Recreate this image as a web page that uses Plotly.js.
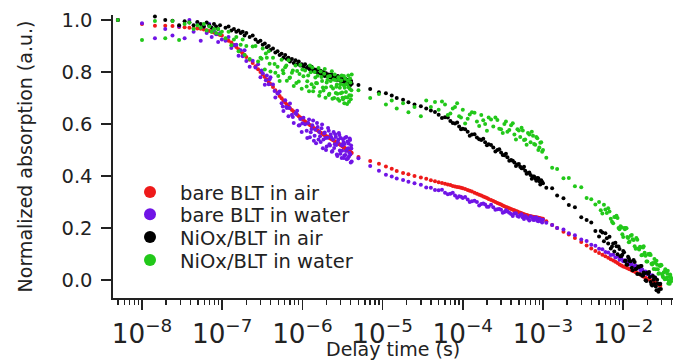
<!DOCTYPE html>
<html><head><meta charset="utf-8">
<script src="https://cdn.plot.ly/plotly-3.0.1.min.js"></script>
<style>html,body{margin:0;padding:0;background:#fff}#chart{width:673px;height:362px}</style>
</head><body><div id="chart"></div>
<script>
// Delay times (s)
const timeFast = [5e-9,1e-8,1.45e-8,1.95e-8,2.4e-8,2.9e-8,3.4e-8,3.9e-8,4.4e-8,4.9e-8,5.4e-8,5.9e-8,6.4e-8,6.9e-8,7.4e-8,7.9e-8,8.4e-8,8.9e-8,9.4e-8,9.9e-8,
1.1e-7,1.2e-7,1.3e-7,1.4e-7,1.5e-7,1.6e-7,1.7e-7,1.8e-7,1.9e-7,2e-7,
2.2e-7,2.4e-7,2.6e-7,2.8e-7,3e-7,3.2e-7,3.4e-7,3.6e-7,3.8e-7,4e-7,
4.3e-7,4.6e-7,4.9e-7,5.2e-7,5.5e-7,5.8e-7,6.1e-7,6.4e-7,6.7e-7,7e-7,
7.4e-7,7.8e-7,8.2e-7,8.6e-7,9e-7,9.4e-7,9.8e-7,1.03e-6,1.08e-6,1.13e-6,
1.18e-6,1.24e-6,1.3e-6,1.36e-6,1.42e-6,1.48e-6,1.55e-6,1.62e-6,1.69e-6,1.76e-6,
1.83e-6,1.9e-6,1.97e-6,2.05e-6,2.13e-6,2.21e-6,2.29e-6,2.37e-6,2.45e-6,2.53e-6,
2.61e-6,2.69e-6,2.77e-6,2.85e-6,2.93e-6,3.01e-6,3.09e-6,3.17e-6,3.25e-6,3.33e-6,
3.41e-6,3.49e-6,3.57e-6,3.65e-6,3.73e-6,3.81e-6,3.89e-6,3.97e-6,4.05e-6,4.12e-6];
const timeBand = [3.1e-7,3.5e-7,3.9e-7,4.5e-7,5e-7,5.7e-7,6.3e-7,6.9e-7,7.6e-7,8.4e-7,9.2e-7,1e-6,
1.15e-6,1.21e-6,1.27e-6,1.33e-6,1.39e-6,1.45e-6,1.52e-6,1.59e-6,1.66e-6,1.73e-6,1.8e-6,1.87e-6,1.94e-6,2.01e-6,
2.09e-6,2.17e-6,2.25e-6,2.33e-6,2.41e-6,2.49e-6,2.57e-6,2.65e-6,2.73e-6,2.81e-6,2.89e-6,2.97e-6,3.05e-6,3.13e-6,
3.21e-6,3.29e-6,3.37e-6,3.45e-6,3.53e-6,3.61e-6,3.69e-6,3.77e-6,3.85e-6,3.93e-6,4.01e-6,4.08e-6];
const timeMid = [5e-6,7e-6,9e-6,1.1e-5,1.3e-5,1.5e-5,1.8e-5,2.1e-5,2.5e-5,3e-5,3.5e-5,4e-5,4.5e-5,5e-5,6e-5,7e-5,8e-5,9e-5,1e-4,1.15e-4,1.3e-4,1.5e-4,1.7e-4,1.9e-4,2.1e-4,2.4e-4,2.7e-4,3e-4,3.3e-4,3.6e-4,4e-4,4.4e-4,4.8e-4,5.2e-4,5.6e-4,6e-4,6.5e-4,7e-4,7.5e-4,8e-4,8.5e-4,9e-4,9.5e-4,1e-3];
const timeMid2 = [5.5e-5,6.5e-5,7.5e-5,8.5e-5,9.5e-5,1.07e-4,1.22e-4,1.4e-4,1.6e-4,1.8e-4,2e-4,2.25e-4,2.55e-4,2.85e-4,3.15e-4,3.45e-4,3.8e-4,4.2e-4,4.6e-4,5e-4,5.4e-4,5.8e-4,6.25e-4,6.75e-4,7.25e-4,7.75e-4,8.25e-4,8.75e-4,9.25e-4,9.75e-4];
const timeLate = [1.1e-3,1.3e-3,1.5e-3,1.8e-3,2.1e-3,2.5e-3,3e-3,3.5e-3,4e-3,4.5e-3,5e-3,5.5e-3,6e-3,6.5e-3,7e-3,7.5e-3,8e-3,8.5e-3,9e-3,9.5e-3,1e-2,1.05e-2,1.1e-2,1.15e-2,1.2e-2,1.28e-2,1.35e-2,1.43e-2,1.5e-2,1.58e-2,1.65e-2,1.73e-2,1.8e-2,1.9e-2,2e-2,2.1e-2,2.2e-2,2.3e-2,2.4e-2,2.5e-2,2.6e-2,2.7e-2,2.8e-2,2.9e-2,3e-2,3.1e-2,3.2e-2,3.3e-2,3.4e-2,3.5e-2,3.6e-2,3.7e-2,3.8e-2,3.9e-2,4e-2];
const timeLate2 = [5.25e-3,5.75e-3,6.25e-3,6.75e-3,7.25e-3,7.75e-3,8.25e-3,8.75e-3,9.25e-3,9.75e-3,1.025e-2,1.075e-2,1.125e-2,1.175e-2,1.24e-2,1.31e-2,1.39e-2,1.46e-2,1.54e-2,1.62e-2,1.69e-2,1.77e-2,1.85e-2,1.95e-2,2.05e-2,2.15e-2,2.25e-2,2.35e-2,2.45e-2,2.55e-2,2.65e-2,2.75e-2,2.85e-2,2.95e-2,3.05e-2,3.15e-2,3.25e-2,3.35e-2,3.45e-2,3.55e-2,3.65e-2,3.75e-2,3.85e-2,3.95e-2];

// bare BLT in air
const redFast = [1.0,0.985,0.978,0.978,0.977,0.973,0.972,0.97,0.968,0.967,
0.966,0.963,0.961,0.958,0.955,0.952,0.948,0.945,0.942,0.94,
0.928,0.92,0.913,0.904,0.896,0.887,0.879,0.871,0.865,0.858,
0.847,0.835,0.822,0.811,0.8,0.79,0.781,0.771,0.762,0.754,
0.742,0.73,0.719,0.708,0.699,0.69,0.683,0.675,0.668,0.661,
0.654,0.648,0.642,0.636,0.63,0.625,0.62,0.616,0.61,0.605,
0.601,0.596,0.591,0.587,0.583,0.579,0.575,0.571,0.566,0.563,
0.56,0.557,0.554,0.551,0.548,0.545,0.542,0.539,0.537,0.534,
0.531,0.529,0.526,0.524,0.521,0.519,0.516,0.514,0.511,0.509,
0.507,0.504,0.502,0.5,0.498,0.496,0.494,0.492,0.49,0.488];
const redMid = [0.473,0.458,0.447,0.437,0.428,0.419,0.412,0.407,0.4,0.394,0.389,0.384,0.38,0.376,0.37,0.365,0.36,0.357,0.353,0.346,0.34,0.332,0.325,0.318,0.312,0.304,0.296,0.29,0.284,0.279,0.273,0.268,0.263,0.259,0.255,0.251,0.248,0.245,0.243,0.241,0.24,0.238,0.237,0.236];
const redMid2 = [0.373,0.367,0.362,0.358,0.355,0.35,0.343,0.336,0.328,0.321,0.315,0.308,0.3,0.293,0.287,0.281,0.276,0.27,0.265,0.261,0.257,0.253,0.25,0.246,0.244,0.242,0.24,0.239,0.237,0.236];
const redLate = [0.226,0.212,0.2,0.186,0.175,0.162,0.146,0.133,0.121,0.112,0.104,0.097,0.091,0.086,0.08,0.075,0.07,0.065,0.06,0.056,0.052,0.05,0.047,0.044,0.041,0.037,0.034,0.03,0.027,0.023,0.02,0.016,0.013,0.009,0.005,0.002,-0.001,-0.004,-0.007,-0.01,-0.013,-0.016,-0.019,-0.022];
const redLate2 = [];

// bare BLT in water
const purpleFast = [1.0,0.987,0.93,0.965,0.94,0.975,0.93,1.0,0.955,0.99,
0.92,0.975,0.95,0.985,0.935,0.96,0.945,0.915,0.95,0.925,
0.92,0.935,0.892,0.903,0.905,0.862,0.884,0.861,0.884,0.842,
0.82,0.843,0.817,0.83,0.78,0.795,0.751,0.787,0.753,0.78,
0.752,0.702,0.717,0.725,0.68,0.65,0.691,0.662,0.63,0.679,
0.636,0.604,0.642,0.651,0.594,0.619,0.569,0.624,0.599,0.574,
0.604,0.549,0.581,0.613,0.555,0.526,0.588,0.569,0.531,0.598,
0.54,0.567,0.5,0.547,0.574,0.517,0.549,0.496,0.569,0.522,
0.55,0.483,0.531,0.565,0.498,0.546,0.469,0.517,0.53,0.479,
0.547,0.496,0.464,0.533,0.507,0.475,0.544,0.483,0.517,0.456];
const purpleBand = [0.806,0.768,0.772,0.727,0.719,0.667,0.665,0.662,0.627,0.638,0.595,0.603,
0.546,0.617,0.568,0.595,0.536,0.578,0.604,0.54,0.553,0.584,0.507,0.564,0.546,0.513,
0.585,0.522,0.56,0.493,0.54,0.508,0.561,0.519,0.477,0.54,0.558,0.486,0.519,0.497,
0.541,0.469,0.523,0.481,0.55,0.503,0.467,0.525,0.489,0.538,0.452,0.506];
const purpleMid = [0.468,0.438,0.42,0.405,0.398,0.39,0.385,0.378,0.372,0.366,0.356,0.355,0.346,0.345,0.336,0.332,0.325,0.322,0.315,0.31,0.303,0.3,0.292,0.29,0.282,0.28,0.272,0.27,0.262,0.263,0.254,0.256,0.246,0.25,0.24,0.246,0.236,0.244,0.232,0.24,0.228,0.236,0.226,0.232];
const purpleMid2 = [0.347,0.33,0.336,0.316,0.32,0.319,0.3,0.305,0.287,0.294,0.282,0.289,0.27,0.273,0.259,0.268,0.259,0.246,0.257,0.243,0.253,0.235,0.241,0.229,0.241,0.231,0.24,0.226,0.233,0.221];
const purpleLate = [0.22,0.212,0.2,0.194,0.18,0.172,0.156,0.15,0.136,0.132,0.12,0.118,0.108,0.106,0.096,0.097,0.087,0.09,0.078,0.083,0.072,0.076,0.066,0.07,0.06,0.062,0.052,0.056,0.045,0.048,0.038,0.04,0.03,0.033,0.022,0.025,0.014,0.018,0.008,0.011];
const purpleLate2 = [];

// NiOx/BLT in air
const blackFast = [1.0,1.022,1.013,1.0,0.997,0.98,0.995,0.99,0.98,0.992,
0.985,0.975,0.99,0.98,0.97,0.985,0.975,0.965,0.98,1.02,
0.97,0.975,0.96,0.965,0.955,0.96,0.95,0.955,0.94,0.95,
0.935,0.94,0.925,0.915,0.92,0.905,0.91,0.895,0.9,0.885,
0.89,0.875,0.88,0.865,0.87,0.855,0.865,0.85,0.855,0.84,
0.85,0.835,0.845,0.83,0.84,0.825,0.83,0.82,0.83,0.815,
0.82,0.81,0.82,0.805,0.81,0.8,0.81,0.795,0.805,0.79,
0.8,0.785,0.795,0.785,0.79,0.78,0.79,0.775,0.785,0.775,
0.78,0.77,0.785,0.77,0.775,0.765,0.78,0.765,0.77,0.76,
0.775,0.76,0.77,0.755,0.77,0.76,0.765,0.75,0.765,0.755];
const blackMid = [0.75,0.735,0.722,0.718,0.71,0.7,0.693,0.684,0.675,0.668,0.66,0.652,0.646,0.636,0.626,0.612,0.602,0.59,0.582,0.57,0.56,0.548,0.538,0.53,0.522,0.51,0.5,0.49,0.48,0.472,0.462,0.452,0.444,0.436,0.43,0.42,0.412,0.404,0.398,0.39,0.392,0.38,0.384,0.372];
const blackMid2 = [0.623,0.625,0.604,0.606,0.58,0.58,0.555,0.561,0.541,0.543,0.518,0.519,0.494,0.503,0.481,0.486,0.459,0.459,0.438,0.446,0.43,0.436,0.409,0.413,0.389,0.398,0.382,0.391,0.367,0.377];
const blackLate = [0.355,0.353,0.325,0.314,0.288,0.28,0.241,0.231,0.221,0.188,0.167,0.183,0.18,0.14,0.121,0.14,0.143,0.099,0.119,0.092,0.112,0.073,0.06,0.089,0.073,0.047,0.077,0.042,0.023,0.05,0.054,0.016,0.029,-0.001,0.028,0.031,-0.008,-0.021,0.001,0.009,-0.039,-0.013,-0.036,-0.014];
const blackLate2 = [0.188,0.149,0.161,0.166,0.129,0.11,0.13,0.129,0.091,0.097,0.107,0.074,0.059,0.084,0.072,0.038,0.069,0.043,0.052,0.022,0.054,0.017,0.026,-0.004,0.024,0.012,-0.017,0.015,-0.015,-0.025,0.001,-0.045,-0.016,-0.035];

// NiOx/BLT in water
const greenFast = [1.0,0.923,0.996,0.93,0.996,0.923,0.985,0.99,0.965,0.98,
0.97,0.985,0.96,0.975,0.955,0.965,0.95,0.965,0.945,0.955,
0.93,0.955,0.903,0.925,0.935,0.88,0.905,0.925,0.865,0.9,
0.85,0.898,0.9,0.84,0.855,0.89,0.81,0.855,0.88,0.802,
0.855,0.797,0.82,0.765,0.847,0.795,0.818,0.766,0.845,0.779,
0.797,0.746,0.825,0.804,0.763,0.827,0.736,0.784,0.806,0.744,
0.787,0.825,0.753,0.726,0.8,0.758,0.786,0.709,0.802,0.765,
0.729,0.812,0.74,0.769,0.712,0.785,0.744,0.697,0.771,0.79,
0.719,0.752,0.696,0.77,0.739,0.718,0.787,0.701,0.75,0.68,
0.774,0.723,0.753,0.702,0.787,0.686,0.736,0.76,0.71,0.79];
const greenBand = [0.851,0.871,0.832,0.831,0.785,0.807,0.825,0.777,0.806,0.758,0.792,0.81,
0.764,0.726,0.799,0.817,0.741,0.779,0.757,0.815,0.723,0.781,0.74,0.793,0.701,0.76,
0.783,0.716,0.765,0.803,0.737,0.7,0.769,0.743,0.716,0.78,0.689,0.753,0.767,0.721,
0.695,0.785,0.739,0.703,0.753,0.677,0.767,0.741,0.711,0.775,0.695,0.73];
const greenMid = [0.73,0.7,0.715,0.675,0.69,0.66,0.68,0.645,0.665,0.63,0.69,0.665,0.685,0.655,0.675,0.64,0.665,0.63,0.655,0.62,0.645,0.61,0.635,0.6,0.625,0.59,0.615,0.58,0.6,0.57,0.595,0.56,0.58,0.55,0.575,0.54,0.565,0.53,0.555,0.52,0.545,0.51,0.53,0.5];
const greenMid2 = [0.687,0.635,0.66,0.68,0.625,0.602,0.637,0.643,0.592,0.614,0.574,0.617,0.625,0.582,0.565,0.61,0.577,0.603,0.54,0.575,0.586,0.538,0.52,0.56,0.57,0.523,0.55,0.5,0.528,0.493];
const greenLate = [0.47,0.432,0.427,0.391,0.392,0.361,0.357,0.315,0.311,0.29,
0.3,0.256,0.271,0.276,0.236,0.218,0.242,0.238,0.195,0.203,
0.165,0.195,0.199,0.162,0.147,0.173,0.154,0.12,0.155,0.117,
0.126,0.096,0.13,0.093,0.071,0.097,0.096,0.06,0.042,0.066,
0.074,0.041,0.026,0.054,0.057,0.016,0.029,0.003,0.035,0.01,
0.036,-0.003,-0.014,0.013,0.005];
const greenLate2 = [0.268,0.289,0.258,0.263,0.224,0.242,0.247,0.2,0.207,0.176,0.2,0.2,0.165,0.145,0.17,0.157,0.13,0.162,0.121,0.128,0.095,0.125,0.105,0.071,0.1,0.101,0.063,0.065,0.081,0.041,0.059,0.024,0.056,0.059,0.023,0.011,0.031,0.041,0.004,0.024,-0.013,0.012,0.021,-0.006];

const seriesNames = ['bare BLT in air','bare BLT in water','NiOx/BLT in air','NiOx/BLT in water'];
const seriesColors = ['#ee1a1a','#7014e6','#000000','#22c81a'];
const seriesData = [
  {fast: redFast, band: [], mid: redMid, mid2: redMid2, late: redLate, late2: redLate2},
  {fast: purpleFast, band: purpleBand, mid: purpleMid, mid2: purpleMid2, late: purpleLate, late2: purpleLate2},
  {fast: blackFast, band: [], mid: blackMid, mid2: blackMid2, late: blackLate, late2: blackLate2},
  {fast: greenFast, band: greenBand, mid: greenMid, mid2: greenMid2, late: greenLate, late2: greenLate2}
];
const legendIds = ['legend','legend2','legend3','legend4'];

const traces = seriesData.map((d, i) => ({
  type: 'scatter', mode: 'markers', name: seriesNames[i], legend: legendIds[i],
  x: timeFast.concat(timeBand.slice(0, d.band.length), timeMid, timeMid2,
                     timeLate.slice(0, d.late.length), timeLate2.slice(0, d.late2.length)),
  y: d.fast.concat(d.band, d.mid, d.mid2, d.late, d.late2),
  cliponaxis: false,
  marker: {color: seriesColors[i], size: 4, line: {width: 0}}
}));

const FAM = 'DejaVu Sans, Verdana, sans-serif';
const INK = '#222';
const legendRowsY = [0.373, 0.295, 0.214, 0.133];
const xTitle = 'Delay time (s)';
const layout = {
  width: 673, height: 362,
  margin: {l: 113, r: 0, t: 15, b: 64},
  paper_bgcolor: '#fff', plot_bgcolor: '#fff',
  font: {family: FAM, size: 19.5, color: INK},
  showlegend: true,
  xaxis: {
    type: 'log', range: [-8.3616, -1.379], dtick: 1, exponentformat: 'power', showexponent: 'all',
    showgrid: false, zeroline: false, showline: true, linecolor: INK, linewidth: 1.6, mirror: false,
    ticks: 'outside', ticklen: 10, tickwidth: 1.6, tickcolor: INK, ticklabelstandoff: 3,
    tickfont: {family: FAM, size: 21, color: INK},
    minor: {ticks: 'outside', ticklen: 5, tickwidth: 1.4, tickcolor: INK, dtick: 'D1', showgrid: false}
  },
  yaxis: {
    range: [-0.0692, 1.0192], dtick: 0.2, tick0: 0, tickformat: '.1f',
    showgrid: false, zeroline: false, showline: true, linecolor: INK, linewidth: 1.6,
    ticks: 'outside', ticklen: 10, tickwidth: 1.6, tickcolor: INK, ticklabelstandoff: 5,
    tickfont: {family: FAM, size: 19.5, color: INK},
    title: {text: 'Normalized absorption (a.u.)', font: {family: FAM, size: 19, color: INK}, standoff: 24}
  },
  annotations: [{
    text: xTitle, xref: 'paper', yref: 'paper', x: 0.5, y: -0.2255,
    xanchor: 'center', yanchor: 'bottom', showarrow: false,
    font: {family: FAM, size: 19, color: INK}
  }]
};
legendIds.forEach((id, i) => {
  layout[id] = {x: 0.0125, y: legendRowsY[i], xanchor: 'left', yanchor: 'middle',
    bgcolor: 'rgba(0,0,0,0)', borderwidth: 0, itemwidth: 50, itemsizing: 'constant',
    font: {family: FAM, size: 19.5, color: INK}};
});
Plotly.newPlot('chart', traces, layout, {displayModeBar: false, staticPlot: true});
</script>
</body></html>
